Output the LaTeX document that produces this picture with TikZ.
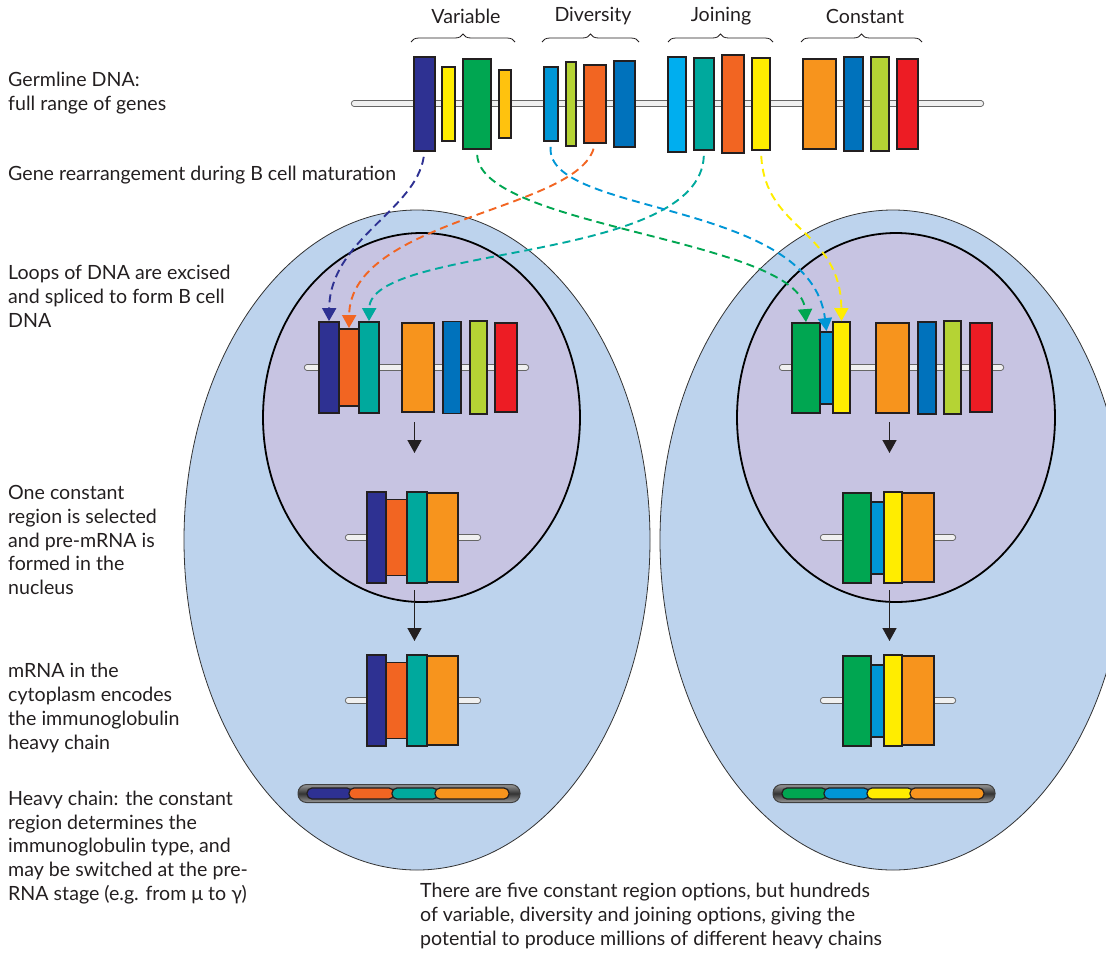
\documentclass[tikz,border=0pt]{standalone}
\usepackage{fontspec}
\setmainfont{Lato}
\usetikzlibrary{arrows.meta,positioning,decorations.pathreplacing,shapes.geometric}
\definecolor{genenavy}{RGB}{46,49,146}
\definecolor{geneyellow}{RGB}{255,237,0}
\definecolor{genegreen}{RGB}{0,166,81}
\definecolor{genegold}{RGB}{255,194,14}
\definecolor{genesky}{RGB}{0,150,214}
\definecolor{genelime}{RGB}{181,211,52}
\definecolor{geneorange}{RGB}{242,101,34}
\definecolor{genecobalt}{RGB}{0,114,188}
\definecolor{genecyan}{RGB}{0,174,239}
\definecolor{geneteal}{RGB}{0,169,157}
\definecolor{geneamber}{RGB}{247,148,29}
\definecolor{genered}{RGB}{237,28,36}
\definecolor{cytoblue}{RGB}{189,211,237}
\definecolor{nuclilac}{RGB}{199,196,226}
\definecolor{outline}{RGB}{35,31,32}

\begin{document}
\begin{tikzpicture}[x=1pt, y=-1pt,
  gene/.style={draw=outline, line width=1.8pt, inner sep=0pt},
  rod/.style={draw=black!60, double=black!6, double distance=4.2pt,
              line width=1pt, line cap=round},
  seg/.style={draw=outline, line width=1.2pt, rounded corners=5pt,
              inner sep=0pt, minimum height=11pt},
  capsule/.style={draw=black!75, line width=1pt, rounded corners=8.5pt,
              top color=black!40, bottom color=black!40, middle color=black!80,
              inner sep=0pt, minimum height=18pt},
  link/.style={line width=1.9pt, dash pattern=on 8pt off 5pt, shorten <=5pt,
              -{Triangle[width=14pt,length=13pt]}},
  down/.style={line width=1.5pt, draw=outline, -{Triangle[width=14pt,length=13pt]}},
  brace/.style={decorate, decoration={brace, amplitude=8pt}, line width=0.8pt, draw=outline},
  lbl/.style={font=\fontsize{19.6}{23.8}\selectfont, align=left, anchor=west,
              inner sep=0pt, text=outline},
  head/.style={font=\fontsize{19.6}{22}\selectfont, inner sep=0pt, text=outline},
  cell/.style={ellipse, draw=black!80, line width=0.8pt, fill=cytoblue, inner sep=0pt},
  nucleus/.style={ellipse, draw=black, line width=1.8pt, fill=nuclilac, inner sep=0pt}
]
\clip (0,0) rectangle (1106,954);

% Cells and nuclei
\node[cell, minimum width=466pt, minimum height=660pt] (cellL) at (417,540) {};
\node[cell, minimum width=466pt, minimum height=660pt] (cellR) at (893,540) {};
\node[nucleus, minimum width=317pt, minimum height=369pt] (nucL) at (421.5,417.5) {};
\node[nucleus, minimum width=318pt, minimum height=369pt] (nucR) at (896,417.5) {};

% Left labels
\node[lbl] (germ) at (8,93) {Germline DNA:\\full range of genes};
\node[lbl] (rearr) at (8,175) {Gene rearrangement during B cell maturation};
\node[lbl] (loops) at (8,296) {Loops of DNA are excised\\and spliced to form B cell\\DNA};
\node[lbl] (select) at (8,540) {One constant\\region is selected\\and pre-mRNA is\\formed in the\\nucleus};
\node[lbl] (mrna) at (8,708) {mRNA in the\\cytoplasm encodes\\the immunoglobulin\\heavy chain};
\node[lbl] (heavy) at (8,847.5) {Heavy chain: the constant\\region determines the\\immunoglobulin type, and\\may be switched at the pre-\\RNA stage (e.g. from μ to γ)};
\node[lbl] (options) at (420,916) {There are five constant region options, but hundreds\\of variable, diversity and joining options, giving the\\potential to produce millions of different heavy chains};

% Germline DNA
\node[head] (varlbl) at (466,16) {Variable};
\node[head] (divlbl) at (593,16) {Diversity};
\node[head] (joinlbl) at (721,16) {Joining};
\node[head] (constlbl) at (865,16) {Constant};
\draw[brace] (411,42) -- (515,42);
\draw[brace] (542,42) -- (639,42);
\draw[brace] (668,42) -- (773,42);
\draw[brace] (801,42) -- (922,42);
\draw[rod] (354,103.5) -- (981,103.5);
\node[gene, fill=genenavy, minimum width=21pt, minimum height=94pt] (v1) at (424.5,104) {};
\node[gene, fill=geneyellow, minimum width=13pt, minimum height=74pt] (v2) at (448.5,104) {};
\node[gene, fill=genegreen, minimum width=28pt, minimum height=90pt] (v3) at (477,104) {};
\node[gene, fill=genegold, minimum width=12pt, minimum height=68pt] (v4) at (505,104) {};
\node[gene, fill=genesky, minimum width=14pt, minimum height=74pt] (d1) at (551,104) {};
\node[gene, fill=genelime, minimum width=10pt, minimum height=84pt] (d2) at (571,104) {};
\node[gene, fill=geneorange, minimum width=22pt, minimum height=78pt] (d3) at (595,104) {};
\node[gene, fill=genecobalt, minimum width=21pt, minimum height=86pt] (d4) at (624.5,104) {};
\node[gene, fill=genecyan, minimum width=18pt, minimum height=95pt] (j1) at (677,104.5) {};
\node[gene, fill=geneteal, minimum width=20pt, minimum height=92pt] (j2) at (704,104) {};
\node[gene, fill=geneorange, minimum width=22pt, minimum height=98pt] (j3) at (733,104) {};
\node[gene, fill=geneyellow, minimum width=18pt, minimum height=92pt] (j4) at (761,104) {};
\node[gene, fill=geneamber, minimum width=33pt, minimum height=90pt] (c1) at (819.5,104) {};
\node[gene, fill=genecobalt, minimum width=19pt, minimum height=94pt] (c2) at (853.5,104) {};
\node[gene, fill=genelime, minimum width=18pt, minimum height=94pt] (c3) at (880,104) {};
\node[gene, fill=genered, minimum width=21pt, minimum height=90pt] (c4) at (907.5,104) {};

% B cell DNA, left
\draw[rod] (307,367.5) -- (526,367.5);
\node[gene, fill=genenavy, minimum width=20pt, minimum height=91pt] (bl1) at (329,367.5) {};
\node[gene, fill=geneorange, minimum width=20pt, minimum height=77pt] (bl2) at (349,367.5) {};
\node[gene, fill=geneteal, minimum width=20pt, minimum height=91pt] (bl3) at (369,367.5) {};
\node[gene, fill=geneamber, minimum width=32pt, minimum height=89pt] (bl4) at (418,367.5) {};
\node[gene, fill=genecobalt, minimum width=18pt, minimum height=92pt] (bl5) at (452,367.5) {};
\node[gene, fill=genelime, minimum width=17pt, minimum height=93pt] (bl6) at (478.5,367.5) {};
\node[gene, fill=genered, minimum width=22pt, minimum height=89pt] (bl7) at (506,367.5) {};

% B cell DNA, right
\draw[rod] (782,367.5) -- (1001,367.5);
\node[gene, fill=genegreen, minimum width=28pt, minimum height=90pt] (br1) at (806,368) {};
\node[gene, fill=genesky, minimum width=13pt, minimum height=72pt] (br2) at (826.5,368) {};
\node[gene, fill=geneyellow, minimum width=17pt, minimum height=91pt] (br3) at (841.5,367.5) {};
\node[gene, fill=geneamber, minimum width=33pt, minimum height=90pt] (br4) at (892.5,368) {};
\node[gene, fill=genecobalt, minimum width=18pt, minimum height=92pt] (br5) at (927,368) {};
\node[gene, fill=genelime, minimum width=17pt, minimum height=93pt] (br6) at (952.5,367.5) {};
\node[gene, fill=genered, minimum width=22pt, minimum height=89pt] (br7) at (981,367.5) {};

% pre-mRNA
\draw[rod] (348,537.5) -- (478,537.5);
\node[gene, fill=genenavy, minimum width=19pt, minimum height=91pt] (pl1) at (376.5,537.5) {};
\node[gene, fill=geneorange, minimum width=21pt, minimum height=76pt] (pl2) at (396.5,537.5) {};
\node[gene, fill=geneteal, minimum width=20pt, minimum height=91pt] (pl3) at (417,537.5) {};
\node[gene, fill=geneamber, minimum width=31pt, minimum height=89pt] (pl4) at (442.5,537.5) {};
\draw[rod] (823,537.5) -- (953,537.5);
\node[gene, fill=genegreen, minimum width=28pt, minimum height=90pt] (pr1) at (857,538) {};
\node[gene, fill=genesky, minimum width=13pt, minimum height=72pt] (pr2) at (877.5,538) {};
\node[gene, fill=geneyellow, minimum width=18pt, minimum height=91pt] (pr3) at (893,537.5) {};
\node[gene, fill=geneamber, minimum width=32pt, minimum height=89pt] (pr4) at (918,537.5) {};

% mRNA
\draw[rod] (348,700.5) -- (478,700.5);
\node[gene, fill=genenavy, minimum width=19pt, minimum height=91pt] (ml1) at (376.5,700.5) {};
\node[gene, fill=geneorange, minimum width=21pt, minimum height=76pt] (ml2) at (396.5,700.5) {};
\node[gene, fill=geneteal, minimum width=20pt, minimum height=91pt] (ml3) at (417,700.5) {};
\node[gene, fill=geneamber, minimum width=31pt, minimum height=89pt] (ml4) at (442.5,700.5) {};
\draw[rod] (823,700.5) -- (953,700.5);
\node[gene, fill=genegreen, minimum width=28pt, minimum height=90pt] (mr1) at (857,701) {};
\node[gene, fill=genesky, minimum width=13pt, minimum height=72pt] (mr2) at (877.5,701) {};
\node[gene, fill=geneyellow, minimum width=18pt, minimum height=91pt] (mr3) at (893,700.5) {};
\node[gene, fill=geneamber, minimum width=32pt, minimum height=89pt] (mr4) at (918,700.5) {};

% Heavy chains
\node[capsule, minimum width=222pt] (hcL) at (409,793.5) {};
\node[seg, fill=genenavy, minimum width=45pt] (hl1) at (329.5,793.5) {};
\node[seg, fill=geneorange, minimum width=45pt] (hl2) at (371.5,793.5) {};
\node[seg, fill=geneteal, minimum width=46pt] (hl3) at (415,793.5) {};
\node[seg, fill=geneamber, minimum width=74pt] (hl4) at (472,793.5) {};
\node[capsule, minimum width=222pt] (hcR) at (884,793.5) {};
\node[seg, fill=genegreen, minimum width=45pt] (hr1) at (804.5,793.5) {};
\node[seg, fill=genesky, minimum width=45pt] (hr2) at (846.5,793.5) {};
\node[seg, fill=geneyellow, minimum width=46pt] (hr3) at (890,793.5) {};
\node[seg, fill=geneamber, minimum width=74pt] (hr4) at (947,793.5) {};

% Processing steps
\coordinate (al1) at (414.5,422); \coordinate (al1e) at (414.5,453);
\coordinate (al2) at (414.5,590); \coordinate (al2e) at (414.5,641);
\coordinate (ar1) at (889.5,422); \coordinate (ar1e) at (889.5,453);
\coordinate (ar2) at (889.5,590); \coordinate (ar2e) at (889.5,641);
\draw[down] (al1) -- (al1e);
\draw[down] (al2) -- (al2e);
\draw[down] (ar1) -- (ar1e);
\draw[down] (ar2) -- (ar2e);

% Rearrangement
\draw[link, genenavy] (v1.south) .. controls +(-9,59) and +(1,-82) .. (bl1.north);
\draw[link, geneorange] (d3.south) .. controls +(-20,67) and +(1,-109) .. (bl2.north);
\draw[link, geneteal] (j2.south) .. controls +(-4,113) and +(1,-77) .. (bl3.north);
\draw[link, genegreen] (v3.south) .. controls +(3,78) and +(-6,-83) .. (br1.north);
\draw[link, genesky] (d1.south) .. controls +(-6,74) and +(-16,-132) .. (br2.north);
\draw[link, geneyellow] (j4.south) .. controls +(4,80) and +(-1,-92) .. (br3.north);

\end{tikzpicture}
\end{document}
